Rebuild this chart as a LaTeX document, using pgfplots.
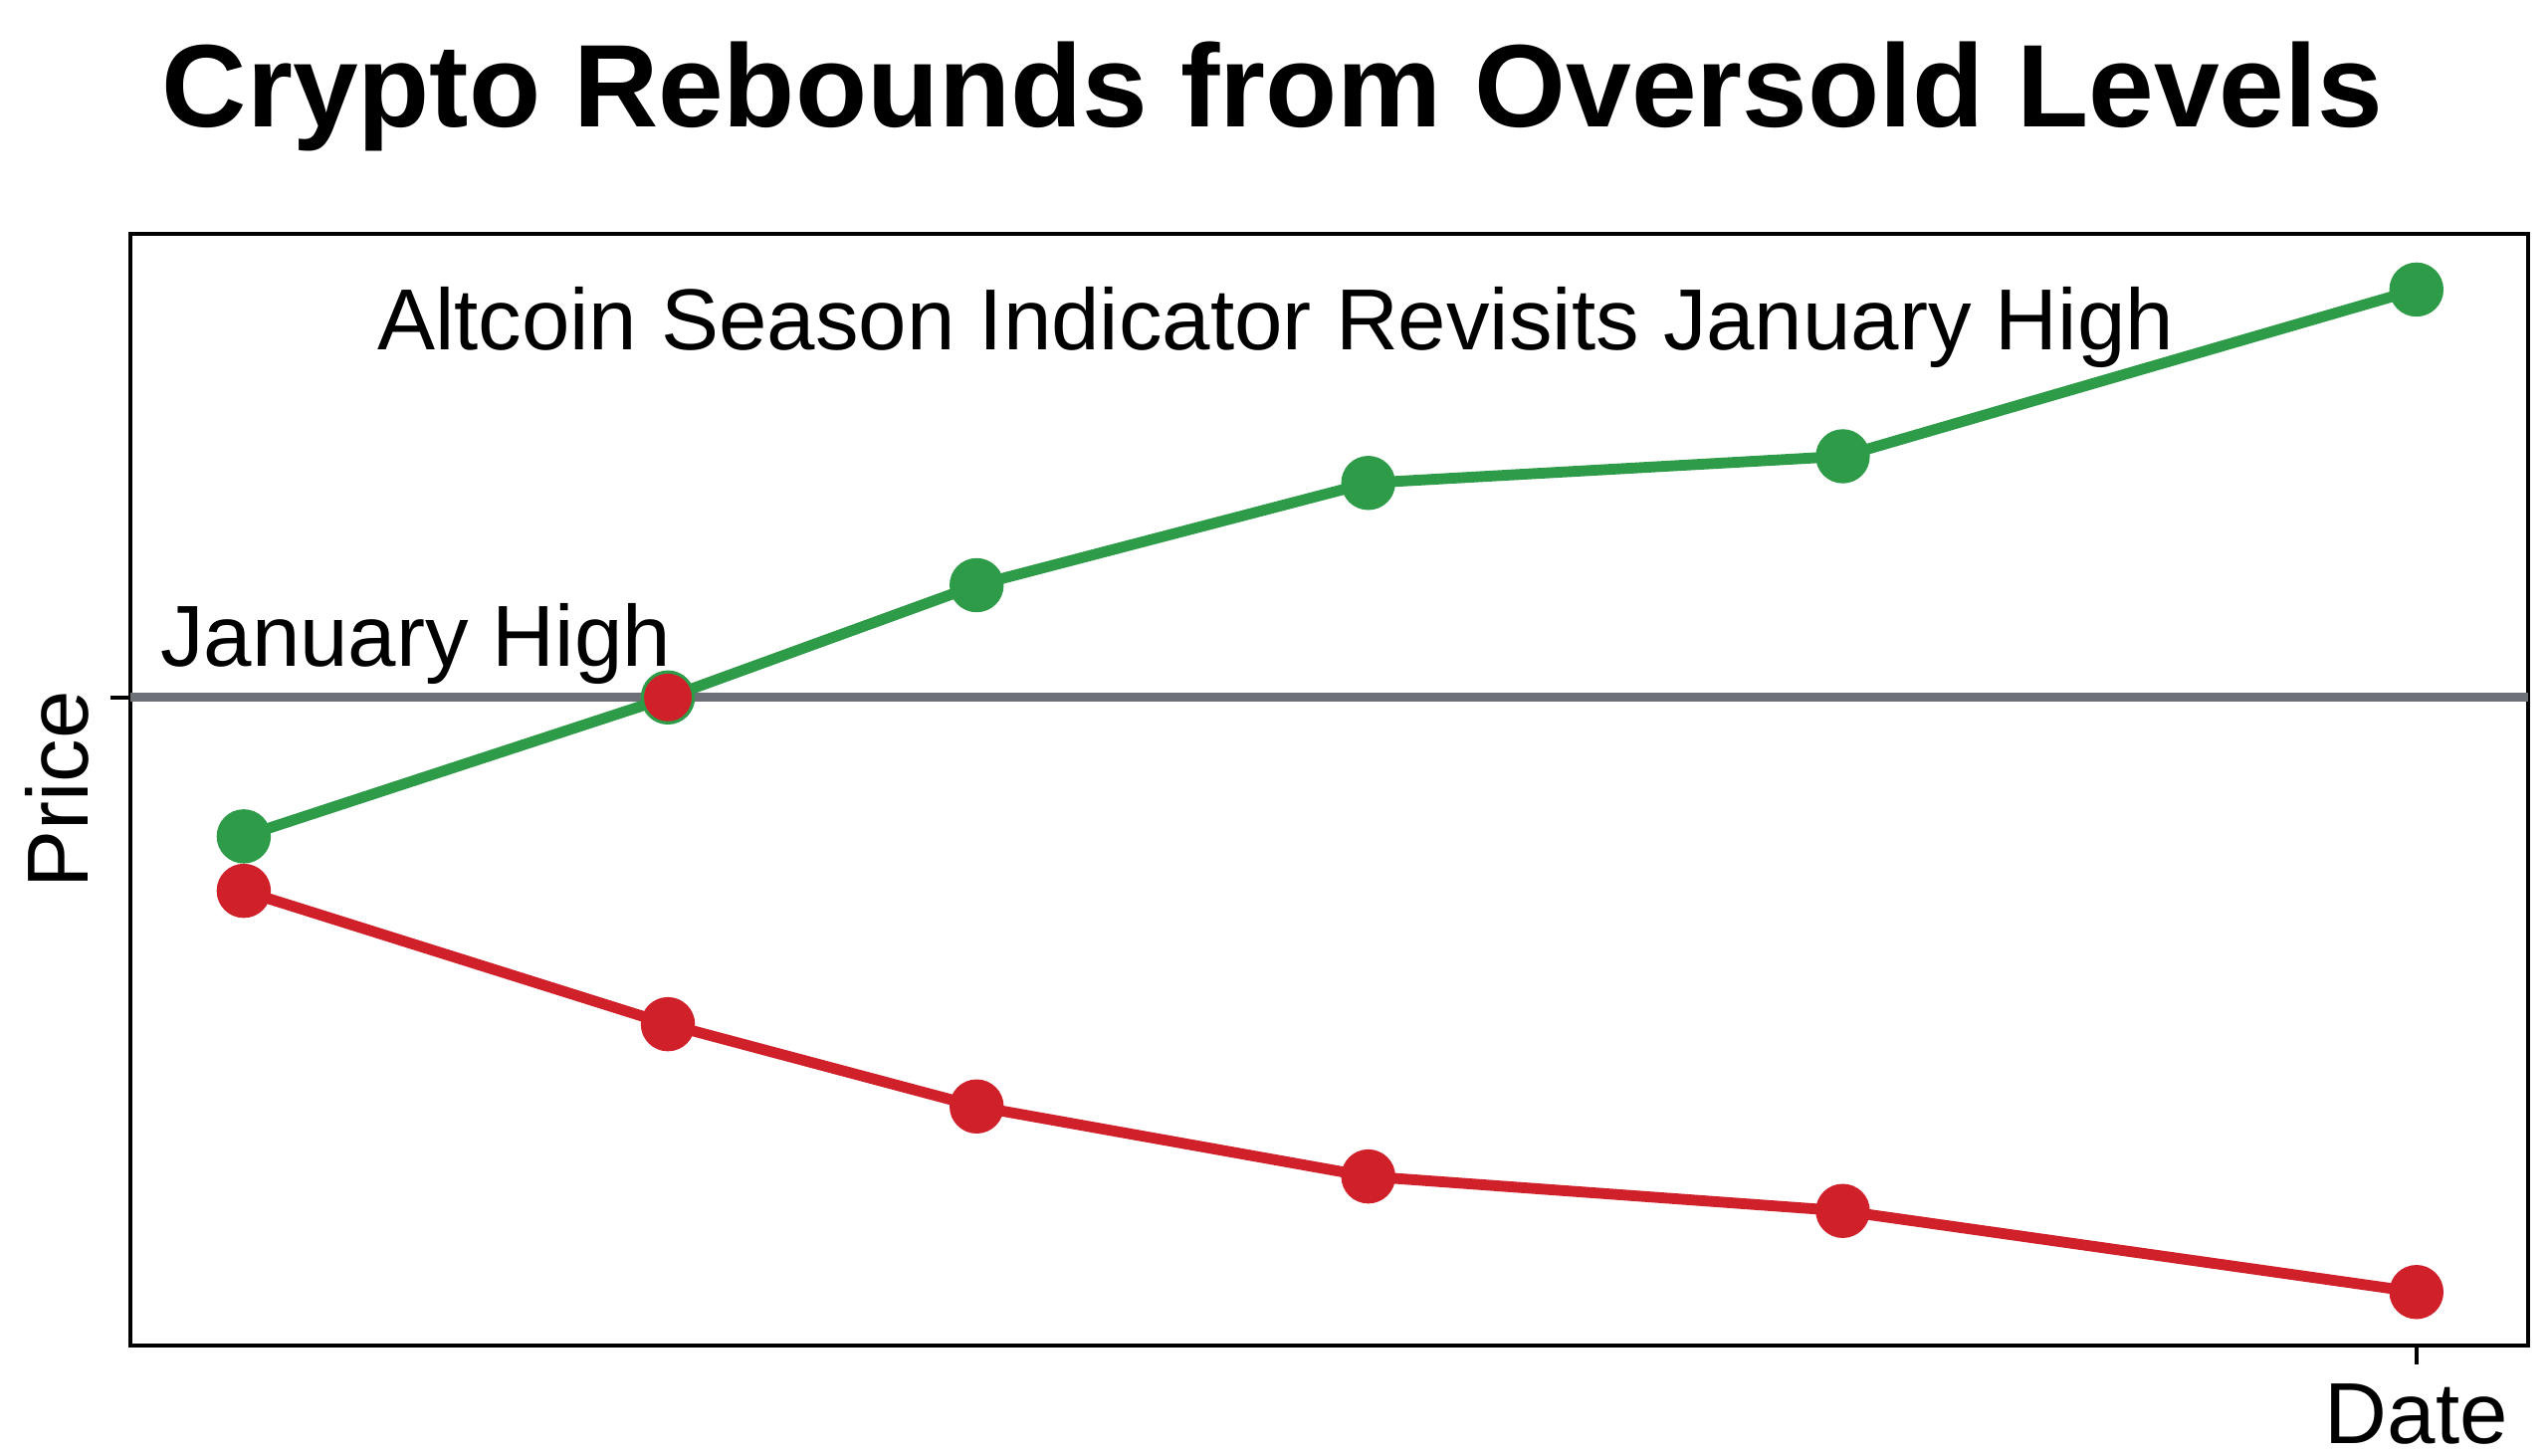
\documentclass[border=0pt]{standalone}
\usepackage{fontspec}
\setmainfont{Liberation Sans}
\usepackage{pgfplots}
\pgfplotsset{compat=1.18}
\definecolor{cgreen}{HTML}{2E9B48}
\definecolor{cred}{HTML}{D0202A}
\definecolor{cgray}{HTML}{6E7078}
\begin{document}
\begin{tikzpicture}
\path[use as bounding box] (0,0) rectangle (470.4pt,268.8pt);
\node[anchor=base, font={\fontsize{21.7}{24}\selectfont\bfseries}] at (234.9pt,245.4pt) {Crypto Rebounds from Oversold Levels};
\begin{axis}[
  at={(24pt,20.4pt)}, anchor=south west,
  scale only axis, width=442.8pt, height=205.2pt,
  xmin=80, xmax=1556, ymin=0, ymax=100,
  axis line style={line width=0.75pt, black},
  xtick={1487}, xticklabels={Date},
  ytick={58.3}, yticklabels={},
  tick align=outside, tick pos=left,
  major tick length=3.6pt,
  every tick/.style={black, line width=0.75pt},
  xticklabel style={font={\fontsize{16}{18}\selectfont}},
  ylabel={Price},
  ylabel style={font={\fontsize{16}{18}\selectfont}, at={(axis description cs:-0.0305,0.5)}, anchor=center, rotate=0},
  clip=false,
]
\addplot[cgray, line width=1.6pt] coordinates {(80,58.3) (1556,58.3)};
\addplot[cgreen, line width=2pt, mark=*, mark size=4pt, mark options={fill=cgreen, draw=cgreen}] coordinates {
(150,45.8) (411,58.3) (601,68.4) (842,77.6) (1134,80.0) (1487,95.0)};
\addplot[cred, line width=2pt, mark=*, mark size=4pt, mark options={fill=cred, draw=cred}] coordinates {
(150,40.9) (411,28.9) (601,21.5) (842,15.2) (1134,12.1) (1487,4.8)};
\addplot[only marks, mark=*, mark size=4.2pt, mark options={fill=cred, draw=cred}] coordinates {(411,58.3)};
\node[anchor=base, font={\fontsize{16}{18}\selectfont}] at (axis cs:785,89.6) {Altcoin Season Indicator Revisits January High};
\node[anchor=base west, inner sep=0pt, font={\fontsize{16}{18}\selectfont}] at (axis cs:98,61.1) {January High};
\end{axis}
\end{tikzpicture}
\end{document}
